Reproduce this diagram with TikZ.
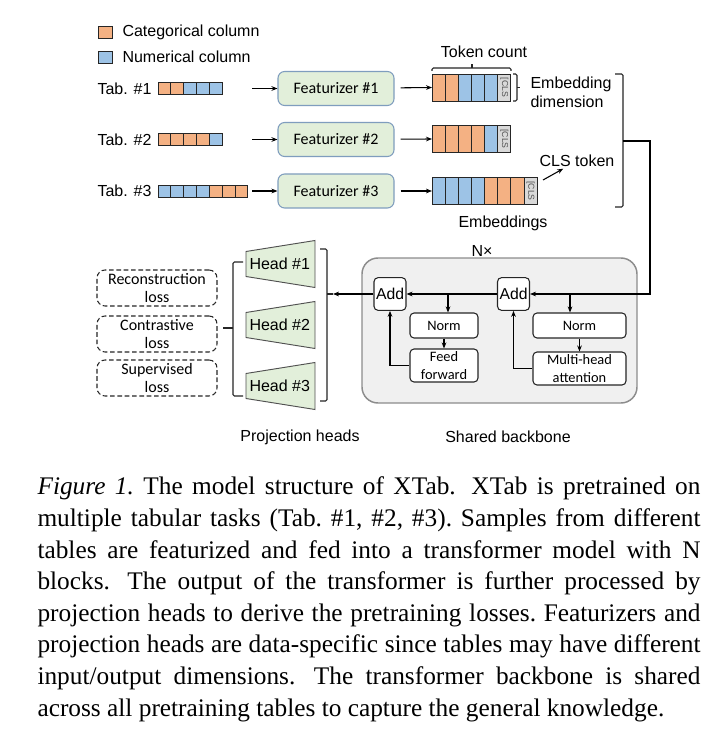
\documentclass[tikz,border=0pt]{standalone}
\usepackage{fontspec}
\setmainfont{Liberation Sans}
\newfontfamily\calfont{Carlito}
\newfontfamily\capfont{Liberation Serif}
\usetikzlibrary{arrows.meta,positioning}
\definecolor{cat}{HTML}{F4B183}
\definecolor{num}{HTML}{9DC3E6}
\definecolor{clsg}{HTML}{D9D9D9}
\definecolor{featfill}{HTML}{E2EFDA}
\definecolor{featline}{HTML}{7F9DBE}
\definecolor{bbfill}{HTML}{F0F0F0}
\definecolor{bbline}{HTML}{8C8C8C}
\definecolor{ink}{HTML}{262626}

\begin{document}
\begin{tikzpicture}[x=0.75pt, y=-0.75pt, >={Stealth[length=4.5pt,width=3.5pt]}, line width=0.8pt,
    lbl/.style={font=\fontsize{12}{14.25}\selectfont, inner sep=0pt},
    cell/.style={draw=ink, line width=0.7pt},
    legbox/.style={draw=ink, line width=0.7pt, minimum width=10.5pt, minimum height=9pt, inner sep=0pt},
    clsbox/.style={draw=ink, line width=0.7pt, fill=clsg, rotate=-90, minimum width=20.25pt, minimum height=9.86pt, inner sep=0pt, font=\fontsize{6.5}{7}\selectfont, text=ink!80},
    feat/.style={draw=featline, fill=featfill, rounded corners=5pt, minimum width=87pt, minimum height=25.5pt, font=\calfont\fontsize{12}{14}\selectfont},
    blk/.style={draw=ink, fill=white, rounded corners=3pt, align=center, inner sep=0pt, font=\calfont\fontsize{10.8}{13.5}\selectfont},
    addbox/.style={draw=ink, fill=white, rounded corners=3pt, minimum width=24pt, minimum height=24.5pt, inner sep=0pt, font=\fontsize{11.8}{14}\selectfont},
    loss/.style={draw=ink, dashed, dash pattern=on 3.5pt off 2pt, rounded corners=6pt, minimum width=90pt, minimum height=27pt, inner sep=0pt, align=center, font=\calfont\fontsize{12}{14.2}\selectfont},
    brk/.style={draw=ink, line width=0.8pt, rounded corners=1pt}]
  \useasboundingbox (0,0) rectangle (723,745);
  \fill[white] (0,0) rectangle (723,745);

  % legend
  \node[legbox, fill=cat] (legcat) at (105,32) {};
  \node[lbl, anchor=west] (legcattxt) at (122,32) {Categorical column};
  \node[legbox, fill=num] (legnum) at (105,57) {};
  \node[lbl, anchor=west] (legnumtxt) at (122,57) {Numerical column};

  % tables and featurizers
  \foreach \r/\y/\cols in {1/88.5/{cat,cat,num,num,num}, 2/139.5/{cat,cat,cat,cat,num}, 3/191/{num,num,num,num,cat,cat,cat}} {
    \node[lbl, anchor=west] (tab\r) at (97,\y) {Tab. \#\r};
    \foreach \c [count=\i from 0] in \cols
      \draw[cell, fill=\c] (158+12.85*\i,\y-6) rectangle ++(12.85,12);
    \node[feat] (feat\r) at (336,\y) {Featurizer \#\r};
    \coordinate (in\r) at (252,\y);
    \draw[->] (in\r) -- (feat\r.west);
  }

  % embeddings
  \foreach \r/\y/\k/\cols in {1/87.5/5/{cat,cat,num,num,num}, 2/139/5/{cat,cat,cat,cat,num}, 3/191/7/{num,num,num,num,cat,cat,cat}} {
    \coordinate (emb\r) at (432,\y);
    \foreach \c [count=\i from 0] in \cols
      \draw[cell, fill=\c] (432+13.15*\i,\y-13.5) rectangle ++(13.15,27);
    \node[clsbox] (cls\r) at (432+13.15*\k+6.575,\y) {[CLS};
    \draw[->, shorten <=4.5pt] (feat\r) -- (emb\r);
  }
  \draw[brk] (432,71) -- (432,68) -- (511,68) -- (511,71);
  \draw[brk] (472,68) -- (472,64);
  \node[lbl] (tokcnt) at (484,52) {Token count};
  \draw[brk] (513,74) -- (517,74) -- (517,101) -- (513,101);
  \draw[brk] (517,87.5) -- (520,87.5);
  \node[lbl, anchor=west, align=left] (embdim) at (530,92.5) {Embedding\\dimension};
  \node[lbl] (clstok) at (577,161) {CLS token};
  \coordinate (clsarr) at (543,180);
  \draw[->, shorten >=2pt] (clsarr) -- (clstok);
  \node[lbl] (embs) at (503,223) {Embeddings};
  \draw[brk] (615,74) -- (623,74) -- (623,207) -- (615,207);
  \coordinate (bbin) at (623,141);

  % shared backbone
  \draw[draw=bbline, fill=bbfill, line width=1.1pt, rounded corners=12pt] (362,258) rectangle (637,403);
  \node[lbl] (nx) at (482,251) {N×};
  \node[addbox] (add2) at (513.5,294) {Add};
  \node[addbox] (add1) at (390,294) {Add};
  \node[blk, minimum width=51pt, minimum height=18.75pt] (norm1) at (444,325.5) {Norm};
  \node[blk, minimum width=51pt, minimum height=24.75pt] (ff) at (444,365.5) {Feed\\forward};
  \node[blk, minimum width=69.75pt, minimum height=18.75pt] (norm2) at (579.5,325.5) {Norm};
  \node[blk, minimum width=69.75pt, minimum height=24.75pt] (mha) at (579.5,368.5) {Multi-head\\attention};
  \draw[->] (bbin) -- ++(27,0) |- (add2.east);
  \draw[->] (add2.west) -- (add1.east);
  \coordinate (br1) at (448,294);
  \draw[->] (br1) -- (br1 |- norm1.north);
  \draw[->] (norm1) -- (ff);
  \draw[->] (ff.west) -| (add1.south);
  \coordinate (br2) at (570,294);
  \draw[->] (br2) -- (br2 |- norm2.north);
  \draw[->] (norm2) -- (mha);
  \draw[->] (mha.west) -| (add2.south);

  % projection heads
  \foreach \r/\y in {1/264,2/325,3/386} {
    \filldraw[draw=ink!80, fill=featfill, line width=0.7pt] (246,\y-12.5) -- (315,\y-23.5) -- (315,\y+23.5) -- (246,\y+12.5) -- cycle;
    \node[lbl, anchor=west] (head\r) at (249,\y) {Head \#\r};
  }
  \draw[brk] (320,249) -- (327,249) -- (327,401) -- (320,401);
  \coordinate (hout) at (333,294);
  \draw[brk] (327,294) -- (hout);
  \draw[->] (add1.west) -- (hout);
  \draw[brk] (243,262) -- (233,262) -- (233,396) -- (243,396);
  \draw[brk] (233,328) -- (223,328);

  % losses
  \node[loss] (lrec) at (157,288) {Reconstruction\\loss};
  \node[loss] (lcon) at (157,334) {Contrastive\\loss};
  \node[loss] (lsup) at (157,378) {Supervised\\loss};

  \node[lbl] (projlbl) at (300,437) {Projection heads};
  \node[lbl] (bblbl) at (508,437) {Shared backbone};

  % caption
  \node[anchor=north west, inner sep=0pt, text width=497.25pt, align=justify, font=\capfont\fontsize{19}{23.7}\selectfont\frenchspacing] (caption) at (37,476.5) {\textit{Figure 1.} The model structure of XTab.\hspace{0.25em} XTab is pretrained on\linebreak
    multiple tabular tasks (Tab. \#1, \#2, \#3). Samples from different\linebreak
    tables are featurized and fed into a transformer model with N\linebreak
    blocks.\hspace{0.25em} The output of the transformer is further processed by\linebreak
    projection heads to derive the pretraining losses. Featurizers and\linebreak
    projection heads are data-specific since tables may have different\linebreak
    input/output dimensions.\hspace{0.25em} The transformer backbone is shared\linebreak
    across all pretraining tables to capture the general knowledge.};
\end{tikzpicture}
\end{document}
